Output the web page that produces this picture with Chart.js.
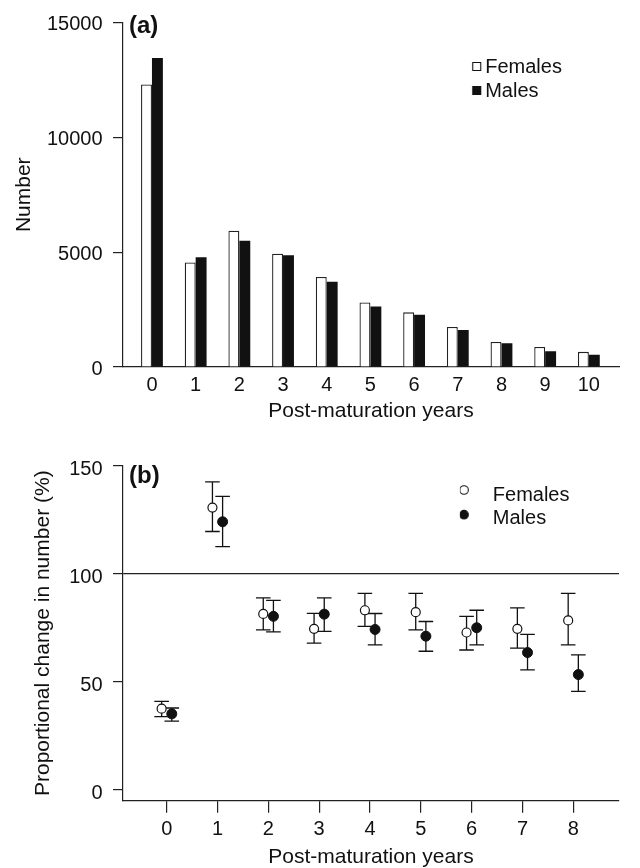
<!DOCTYPE html>
<html><head><meta charset="utf-8">
<script src="https://cdn.jsdelivr.net/npm/chart.js@4"></script>
<style>
html,body{margin:0;padding:0;background:#fff;overflow:hidden;width:640px;height:868px;}
#wrapA{position:absolute;left:0;top:0;width:640px;height:434px;}
#wrapB{position:absolute;left:0;top:434px;width:640px;height:440px;}
canvas{display:block;}
</style></head><body>
<div id="wrapA"><canvas id="chartA" width="640" height="434"></canvas></div>
<div id="wrapB"><canvas id="chartB" width="640" height="440"></canvas></div>
<script>
// ---------- Panel (a): numbers by post-maturation year ----------
const yearsA = [0,1,2,3,4,5,6,7,8,9,10];
const femalesNumber = [12300,4550,5930,4930,3920,2810,2380,1740,1090,875,660];
const malesNumber   = [13450,4780,5500,4870,3710,2630,2270,1610,1030,690,530];
const yTicksA = [0,5000,10000,15000];

// ---------- Panel (b): proportional change (%) with error bars ----------
const yearsB = [0,1,2,3,4,5,6,7,8];
const femalesChange = [37.4,130.6,81.3,74.4,83.0,82.1,72.7,74.4,78.3];
const femalesLow    = [33.7,119.5,73.9,67.8,75.5,73.9,64.6,65.5,67.0];
const femalesHigh   = [40.8,142.5,88.7,81.6,90.8,90.8,80.2,84.1,90.8];
const malesChange   = [35.0,124.0,80.2,81.2,74.1,71.0,74.9,63.4,53.2];
const malesLow      = [31.6,112.5,73.0,73.2,67.0,64.0,67.0,55.4,45.4];
const malesHigh     = [37.7,135.8,87.6,88.7,81.5,77.8,83.0,71.8,62.3];
const yTicksB = [0,50,100,150];
const referenceLevel = 100;
const DODGE = 0.1;

const FONT = "'Liberation Sans', Arial, Helvetica, sans-serif";
const INK = '#111';
Chart.defaults.font.family = FONT;
Chart.defaults.color = INK;
Chart.defaults.animation = false;

function marker(shape, fill, dx, dy) {
  const W = 2 * Math.ceil(Math.abs(dx) + 9), H = 2 * Math.ceil(Math.abs(dy) + 9);
  const c = document.createElement('canvas'); c.width = W; c.height = H;
  const g = c.getContext('2d');
  const cx = W / 2 + dx, cy = H / 2 + dy;
  g.fillStyle = fill; g.strokeStyle = INK; g.lineWidth = 1.1;
  g.beginPath();
  if (shape === 'circle') g.arc(cx, cy, 4.3, 0, Math.PI * 2);
  else g.rect(Math.round(cx - 4) + 0.5, Math.round(cy - 4) + 0.5, 8, 8);
  g.fill(); g.stroke();
  return c;
}

const legendMover = {
  id: 'legendMover',
  afterLayout(chart, args, o) {
    const l = chart.legend; if (!l) return;
    const w = l.width, h = l.height;
    l.left = o.x; l.top = o.y; l.right = o.x + w; l.bottom = o.y + h;
  }
};
const panelLabel = {
  id: 'panelLabel',
  afterDraw(chart, args, o) {
    const ctx = chart.ctx; ctx.save();
    ctx.font = 'bold ' + o.size + 'px ' + FONT; ctx.fillStyle = INK;
    ctx.textBaseline = 'alphabetic'; ctx.textAlign = 'left';
    ctx.fillText(o.text, o.x, o.y); ctx.restore();
  }
};
const errorBars = {
  id: 'errorBars',
  beforeDatasetsDraw(chart, args, o) {
    const {ctx, scales: {x, y}} = chart;
    ctx.save(); ctx.strokeStyle = INK; ctx.lineWidth = o.lineWidth;
    chart.data.datasets.forEach(ds => {
      if (!ds.errLow) return;
      ds.data.forEach((p, i) => {
        const px = x.getPixelForValue(p.x);
        const lo = y.getPixelForValue(ds.errLow[i]), hi = y.getPixelForValue(ds.errHigh[i]);
        ctx.beginPath();
        ctx.moveTo(px, lo); ctx.lineTo(px, hi);
        ctx.moveTo(px - o.cap, lo); ctx.lineTo(px + o.cap, lo);
        ctx.moveTo(px - o.cap, hi); ctx.lineTo(px + o.cap, hi);
        ctx.stroke();
      });
    });
    ctx.restore();
  }
};

function legendLabels(markers) {
  return chart => chart.data.datasets.map((ds, i) => ({
    text: ds.label, pointStyle: markers[i], datasetIndex: i, hidden: false,
    lineWidth: 0, fillStyle: INK, strokeStyle: INK, fontColor: INK
  }));
}

// ---------- Chart A ----------
new Chart(document.getElementById('chartA'), {
  type: 'bar',
  data: {
    datasets: [
      { label: 'Females', data: yearsA.map((x, i) => ({x, y: femalesNumber[i]})),
        backgroundColor: '#fff', borderColor: '#222', borderWidth: 1.3,
        categoryPercentage: 0.5, barPercentage: 1.0 },
      { label: 'Males', data: yearsA.map((x, i) => ({x, y: malesNumber[i]})),
        backgroundColor: INK, borderColor: INK, borderWidth: 0,
        categoryPercentage: 0.5, barPercentage: 1.0 }
    ]
  },
  options: {
    responsive: false,
    layout: { padding: { top: 19, right: 21, left: 0, bottom: 0 } },
    scales: {
      x: {
        type: 'linear', offset: false, min: -0.663, max: 10.69,
        afterBuildTicks: s => { s.ticks = yearsA.map(v => ({value: v})); },
        grid: { display: false, drawTicks: false },
        border: { display: true, color: '#222', width: 1.2 },
        ticks: { padding: 6, font: {size: 20}, color: INK, autoSkip: false, maxRotation: 0, callback: v => String(v) },
        title: { display: true, text: 'Post-maturation years', font: {size: 21}, color: INK, padding: {top: 0, bottom: 10} },
        afterFit: s => { s.height = 67; }
      },
      y: {
        type: 'linear', min: 0, max: 15000,
        afterBuildTicks: s => { s.ticks = yTicksA.map(v => ({value: v})); },
        grid: { display: true, drawOnChartArea: false, tickLength: 10, color: '#222', lineWidth: 1.2 },
        border: { display: true, color: '#222', width: 1.2 },
        ticks: { padding: 10.5, labelOffset: 2, font: {size: 20}, color: INK, callback: v => String(v) },
        title: { display: true, text: 'Number', font: {size: 21}, color: INK, padding: {top: 11.4, bottom: 0} },
        afterFit: s => { s.width = 123; }
      }
    },
    plugins: {
      legend: {
        position: 'chartArea', align: 'start',
        labels: {
          usePointStyle: true, padding: 4, font: {size: 20}, color: INK,
          generateLabels: legendLabels([marker('square', '#fff', 10.8, -1), marker('square', INK, 10.8, -1)])
        }
      },
      legendMover: { x: 451.2, y: 53 },
      panelLabel: { text: '(a)', x: 129, y: 33, size: 24 },
      tooltip: { enabled: false }
    }
  },
  plugins: [legendMover, panelLabel]
});

// ---------- Chart B ----------
new Chart(document.getElementById('chartB'), {
  type: 'scatter',
  data: {
    datasets: [
      { label: 'Females', data: yearsB.map((x, i) => ({x: x - DODGE, y: femalesChange[i]})),
        errLow: femalesLow, errHigh: femalesHigh,
        pointStyle: 'circle', pointRadius: 4.5, backgroundColor: '#fff', borderColor: INK, borderWidth: 1.2, showLine: false },
      { label: 'Males', data: yearsB.map((x, i) => ({x: x + DODGE, y: malesChange[i]})),
        errLow: malesLow, errHigh: malesHigh,
        pointStyle: 'circle', pointRadius: 5, backgroundColor: INK, borderColor: INK, borderWidth: 1, showLine: false }
    ]
  },
  options: {
    responsive: false,
    layout: { padding: { top: 31.7, right: 21, left: 0, bottom: 0 } },
    scales: {
      x: {
        type: 'linear', min: -0.86, max: 8.9,
        afterBuildTicks: s => { s.ticks = yearsB.map(v => ({value: v})); },
        grid: { display: true, drawOnChartArea: false, tickLength: 12, color: '#222', lineWidth: 1.2 },
        border: { display: true, color: '#222', width: 1.2 },
        ticks: { padding: 5, font: {size: 20}, color: INK, autoSkip: false, maxRotation: 0, callback: v => String(v) },
        title: { display: true, text: 'Post-maturation years', font: {size: 21}, color: INK, padding: {top: 0, bottom: 4.4} },
        afterFit: s => { s.height = 73.3; }
      },
      y: {
        type: 'linear', min: -5.25, max: 150,
        afterBuildTicks: s => { s.ticks = yTicksB.map(v => ({value: v})); },
        grid: { display: true, drawOnChartArea: true, tickLength: 10, lineWidth: 1.2, tickColor: '#222',
                color: c => (c.tick && c.tick.value === referenceLevel) ? '#222' : 'rgba(0,0,0,0)' },
        border: { display: true, color: '#222', width: 1.2 },
        ticks: { padding: 10.5, labelOffset: 4, font: {size: 20}, color: INK, callback: v => String(v) },
        title: { display: true, text: 'Proportional change in number (%)', font: {size: 21}, color: INK, padding: {top: 30.4, bottom: 0} },
        afterFit: s => { s.width = 123; }
      }
    },
    plugins: {
      legend: {
        position: 'chartArea', align: 'start',
        labels: {
          usePointStyle: true, padding: 3, font: {size: 20}, color: INK,
          generateLabels: legendLabels([marker('circle', '#fff', -8.8, -5), marker('circle', INK, -8.8, -3.3)])
        }
      },
      legendMover: { x: 459.8, y: 48 },
      panelLabel: { text: '(b)', x: 129, y: 49, size: 24 },
      errorBars: { cap: 7.3, lineWidth: 1.3 },
      tooltip: { enabled: false }
    }
  },
  plugins: [legendMover, panelLabel, errorBars]
});
</script>
</body></html>
